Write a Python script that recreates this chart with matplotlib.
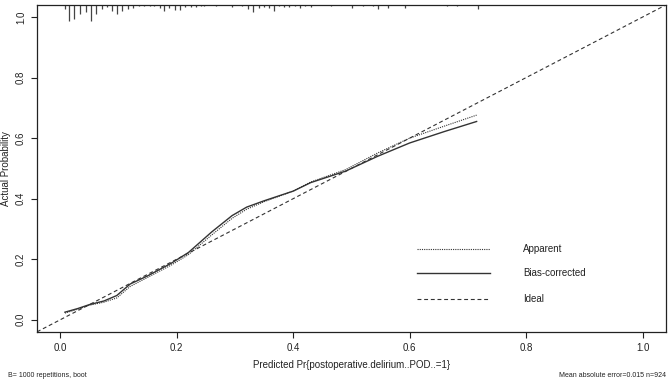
import matplotlib
matplotlib.use("Agg")
import matplotlib.pyplot as plt
import numpy as np

plt.rcParams['font.family'] = ['Liberation Sans', 'DejaVu Sans']

# Calibration curves
pred_x = [0.008, 0.03, 0.05, 0.075, 0.097, 0.12, 0.15, 0.19, 0.22, 0.26, 0.295,
          0.32, 0.35, 0.40, 0.43, 0.49, 0.545, 0.60, 0.66, 0.715]
bias_corrected = [0.025, 0.037, 0.050, 0.062, 0.080, 0.118, 0.145, 0.186, 0.222, 0.29,
                  0.344, 0.372, 0.393, 0.425, 0.453, 0.491, 0.540, 0.584, 0.622, 0.655]
apparent = [0.022, 0.035, 0.048, 0.058, 0.072, 0.110, 0.140, 0.180, 0.215, 0.28,
            0.335, 0.365, 0.390, 0.425, 0.455, 0.496, 0.551, 0.600, 0.640, 0.676]

# Distribution of predicted probabilities (spike histogram at top)
rug_x = [0.0073, 0.0158, 0.0244, 0.0341, 0.0438, 0.0523, 0.0613, 0.0710, 0.0796, 0.0891,
         0.0976, 0.1068, 0.1164, 0.1249, 0.1346, 0.1436, 0.1533, 0.1618, 0.1704, 0.1789,
         0.1874, 0.1971, 0.2056, 0.2147, 0.2244, 0.2329, 0.2414, 0.2470, 0.2670, 0.2952,
         0.3123, 0.3225, 0.3310, 0.3407, 0.3492, 0.3578, 0.3663, 0.3748, 0.3850, 0.3930,
         0.4032, 0.4118, 0.4203, 0.4305, 0.4656, 0.5009, 0.5196, 0.5366, 0.5463, 0.5634,
         0.5923, 0.6644, 0.6814, 0.7167]
rug_freq = [4, 16, 14, 9, 7, 16, 9, 4, 2, 6,
            9, 6, 4, 3, 1.5, 1, 1, 1, 3, 6,
            3, 5, 5, 2.5, 2.5, 2.5, 1.5, 1, 1, 2.5,
            1, 4, 7, 3.5, 2.5, 3.5, 6.5, 1, 2.5, 2.5,
            1, 3.5, 1, 2.5, 1, 3, 1.5, 1.5, 4, 3,
            3.5, 1, 1, 4]

x_ticks = [0.0, 0.2, 0.4, 0.6, 0.8, 1.0]
y_ticks = [0.0, 0.2, 0.4, 0.6, 0.8, 1.0]
legend_labels = ["Apparent", "Bias-corrected", "Ideal"]

fig = plt.figure(figsize=(6.69, 3.81), dpi=100)
ax = fig.add_axes([0.0553, 0.129, 0.940, 0.858])
ax.set_xlim(-0.04, 1.04)
ax.set_ylim(-0.04, 1.04)

col = '#333333'
ax.plot([-0.04, 1.04], [-0.04, 1.04], linestyle=(0, (3.5, 2.5)), color=col, lw=0.8)
ax.plot(pred_x, apparent, linestyle=(0, (1, 1)), color=col, lw=0.8)
ax.plot(pred_x, bias_corrected, linestyle='-', color=col, lw=1.0)

# spike histogram hanging from top
top = 1.04
scale = 0.052 / max(rug_freq)
rf = np.array(rug_freq) * scale
ax.vlines(rug_x, top - rf, top, color='#444444', lw=0.9)

# legend
styles = [(0, (1, 1)), '-', (0, (3.5, 2.5))]
ys = [0.235, 0.154, 0.069]
for lab, ls, yy in zip(legend_labels, styles, ys):
    ax.plot([0.613, 0.738], [yy, yy], linestyle=ls, color=col, lw=0.8 if ls != '-' else 1.0)
    ax.text(0.795, yy, lab, fontsize=7, va='center', ha='left', color='#222222')

ax.set_xticks(x_ticks)
ax.set_xticklabels([f"{v:.1f}" for v in x_ticks])
ax.set_yticks(y_ticks)
ax.set_yticklabels([f"{v:.1f}" for v in y_ticks], rotation=90, va='center')
ax.tick_params(direction='out', length=4, width=0.8, labelsize=7, colors='#222222')
ax.tick_params(axis='x', pad=4)
ax.tick_params(axis='y', pad=4)
for s in ax.spines.values():
    s.set_linewidth(0.9)
    s.set_color('#222222')

ax.set_xlabel("Predicted Pr{postoperative.delirium..POD..=1}", fontsize=7, color='#222222')
ax.set_ylabel("Actual Probability", fontsize=7, color='#222222')
ax.xaxis.set_label_coords(0.5, -0.085)
ax.yaxis.set_label_coords(-0.041, 0.5)

fig.text(0.012, 0.005, "B= 1000 repetitions, boot", fontsize=5, ha='left', va='bottom', color='#222222')
fig.text(0.995, 0.005, "Mean absolute error=0.015 n=924", fontsize=5, ha='right', va='bottom', color='#222222')

fig.savefig("out.png", dpi=100)
